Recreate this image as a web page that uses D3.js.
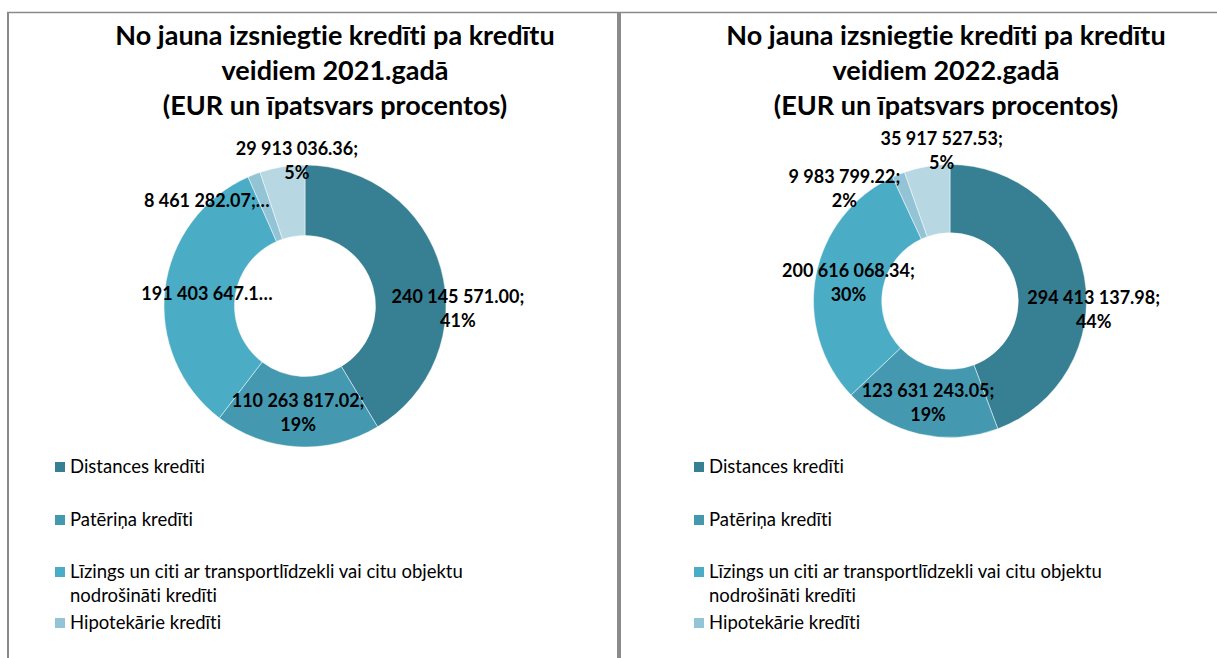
<!DOCTYPE html>
<html>
<head>
<meta charset="utf-8">
<script src="https://cdn.jsdelivr.net/npm/d3@7"></script>
<style>
  html, body { margin: 0; padding: 0; background: #fff; }
  svg { display: block; font-family: Lato, "Open Sans", sans-serif; font-variant-ligatures: none; font-feature-settings: "liga" 0, "dlig" 0; }
</style>
</head>
<body>
<div id="chart"></div>
<script>
// credit types, in slice order (clockwise from 12 o'clock)
const categories = [
  "Distances kredīti",
  "Patēriņa kredīti",
  "Līzings un citi ar transportlīdzekli vai citu objektu nodrošināti kredīti",
  "Hipotekārie kredīti",
  "Citi kredīti"
]
// legend lines as shown (the long one wraps, the 5th entry is cut off by the box)
const legendLines = [
  ["Distances kredīti"],
  ["Patēriņa kredīti"],
  ["Līzings un citi ar transportlīdzekli vai citu objektu", "nodrošināti kredīti"],
  ["Hipotekārie kredīti"]
]
const years = ["2021", "2022"]
const values2021 = [240145571.00, 110263817.02, 191403647.10, 8461282.07, 29913036.36]
const values2022 = [294413137.98, 123631243.05, 200616068.34, 9983799.22, 35917527.53]
// whether the data label fits in full (false -> truncated with an ellipsis)
const labelFits2021 = [true, true, false, false, true]
const labelFits2022 = [true, true, true, true, true]

const colors = ["#377f93", "#4499b1", "#4bacc6", "#93c4d5", "#b7d7e3"]

const W = 1217, H = 658

// layout of the two panels
const panels = [
  {year: years[0], values: values2021, fits: labelFits2021,
   cx: 305, cy: 306, R: 141, titleX: 335, legendX: 55,
   // label nudges from the slice centroid
   nudge: [[51, 31], [-1, 1], [7, 1], [-60, -6], [9, -41]]},
  {year: years[1], values: values2022, fits: labelFits2022,
   cx: 950, cy: 301, R: 136.5, titleX: 946, legendX: 694,
   nudge: [[43, 27], [1, 2], [-1, 1], [-67, -17], [9, -49]]}
]

const svg = d3.select("#chart")
  .append("svg")
    .attr("width", W)
    .attr("height", H)

// frame lines of the two embedded chart boxes
svg.append("line").attr("x1", 7).attr("x2", W).attr("y1", 12.5).attr("y2", 12.5)
  .attr("stroke", "#8a8a8a").attr("stroke-width", 1.5)
svg.append("line").attr("x1", 8).attr("x2", 8).attr("y1", 12).attr("y2", H)
  .attr("stroke", "#8a8a8a").attr("stroke-width", 2)
svg.append("line").attr("x1", 619).attr("x2", 619).attr("y1", 12).attr("y2", H)
  .attr("stroke", "#8a8a8a").attr("stroke-width", 4)

const fmtNum = v => d3.format(",.2f")(v).replace(/,/g, " ")

panels.forEach(p => {
  const g = svg.append("g")

  // title
  const titleLines = [
    "No jauna izsniegtie kredīti pa kredītu",
    `veidiem ${p.year}.gadā`,
    "(EUR un īpatsvars procentos)"
  ]
  g.append("text")
    .attr("text-anchor", "middle")
    .attr("font-size", 27)
    .attr("font-weight", "bold")
    .attr("fill", "#000")
    .selectAll("tspan")
    .data(titleLines)
    .join("tspan")
      .attr("x", p.titleX)
      .attr("y", (d, i) => 45 + i * 35)
      .text(d => d)

  // donut
  const total = d3.sum(p.values)
  const pie = d3.pie().sort(null).value(d => d)
  const arcs = pie(p.values)
  const arc = d3.arc().innerRadius(p.R / 2).outerRadius(p.R)
  const mid = d3.arc().innerRadius(p.R * 0.75).outerRadius(p.R * 0.75)

  const donut = g.append("g").attr("transform", `translate(${p.cx},${p.cy})`)
  donut.selectAll("path")
    .data(arcs)
    .join("path")
      .attr("d", arc)
      .attr("fill", (d, i) => colors[i])
      .attr("stroke", "#fff")
      .attr("stroke-opacity", 0.6)
      .attr("stroke-width", 0.8)

  // data labels
  donut.selectAll("text")
    .data(arcs)
    .join("text")
      .attr("text-anchor", "middle")
      .attr("font-size", 18)
      .attr("font-weight", "bold")
      .attr("fill", "#000")
      .each(function(d, i) {
        const [x, y] = mid.centroid(d)
        const nx = x + p.nudge[i][0], ny = y + p.nudge[i][1]
        const pct = Math.round(d.value / total * 100) + "%"
        const full = `${fmtNum(d.value)}; ${pct}`
        const lines = p.fits[i]
          ? [fmtNum(d.value) + ";", pct]
          : [full.slice(0, 13) + "…"]
        d3.select(this).selectAll("tspan")
          .data(lines)
          .join("tspan")
            .attr("x", nx)
            .attr("y", (t, k) => ny + 6 + (k - (lines.length - 1) / 2) * 24)
            .text(t => t)
      })

  // legend
  const rowY = [473, 526, 578, 629]
  const leg = g.append("g")
  legendLines.forEach((lines, i) => {
    leg.append("rect")
      .attr("x", p.legendX)
      .attr("y", rowY[i] - 11)
      .attr("width", 10)
      .attr("height", 10)
      .attr("fill", colors[i])
    leg.append("text")
      .attr("font-size", 18.5)
      .attr("fill", "#000")
      .selectAll("tspan")
      .data(lines)
      .join("tspan")
        .attr("x", p.legendX + 15)
        .attr("y", (t, k) => rowY[i] + k * 24)
        .text(t => t)
  })
})
</script>
</body>
</html>
